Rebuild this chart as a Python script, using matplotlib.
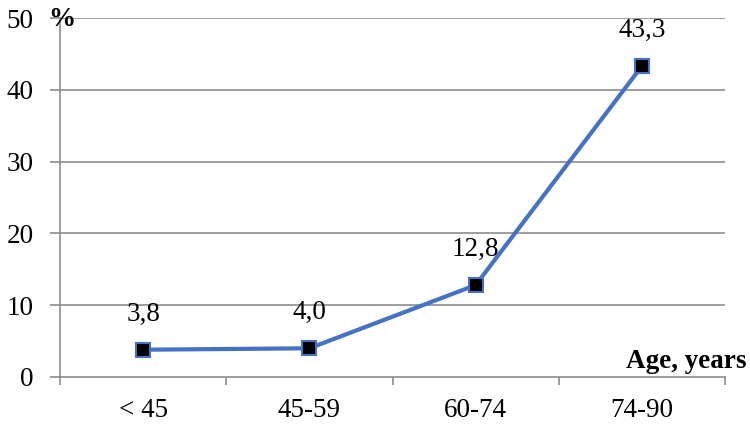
import matplotlib
matplotlib.use("Agg")
import matplotlib.pyplot as plt
from matplotlib.ticker import FixedLocator

categories = ["< 45", "45-59", "60-74", "74-90"]
values = [3.8, 4.0, 12.8, 43.3]
labels = ["3,8", "4,0", "12,8", "43,3"]
yticks = [0, 10, 20, 30, 40, 50]

plt.rcParams['font.family'] = ['Liberation Serif', 'DejaVu Serif']
FS = 19.5
fig = plt.figure(figsize=(7.5, 4.28), dpi=100)
ax = fig.add_axes([60/750, 51/428, 665/750, 359/428])

grid_c = "#8c8c8c"
x = list(range(len(categories)))
ax.plot(x, values, color="#4472C4", lw=3, marker="s", ms=10,
        mfc="black", mec="#4472C4", mew=1.5, zorder=5, clip_on=False)
for xi, v, l in zip(x, values, labels):
    ax.annotate(l, (xi, v), xytext=(0, 21), textcoords="offset points",
                ha="center", va="baseline", fontsize=FS)

ax.set_xlim(-0.5, 3.5)
ax.set_ylim(0, 50)
ax.set_yticks(yticks)
ax.set_yticklabels([str(t) for t in yticks], fontsize=FS)
for t in yticks[1:]:
    ax.axhline(t, color=grid_c, lw=1.2, zorder=1)
ax.set_xticks(x)
ax.set_xticklabels(categories, fontsize=FS)
ax.xaxis.set_minor_locator(FixedLocator([-0.5, 0.5, 1.5, 2.5, 3.5]))
ax.tick_params(axis="x", which="major", length=0, pad=15)
ax.tick_params(axis="x", which="minor", length=6, color=grid_c, width=1.2)
ax.tick_params(axis="y", length=7, color=grid_c, width=1.2, pad=12)
for s in ["top", "right"]:
    ax.spines[s].set_visible(False)
ax.spines["left"].set_color(grid_c)
ax.spines["bottom"].set_color(grid_c)
ax.spines["left"].set_linewidth(1.2)
ax.spines["bottom"].set_linewidth(1.2)

fig.text(62/750, 1 - 19/428, "%", fontsize=FS, fontweight="bold", ha="center", va="center")
fig.text(746/750, 1 - 362/428, "Age, years", fontsize=FS, fontweight="bold", ha="right", va="center")

fig.savefig("out.png", dpi=100)
